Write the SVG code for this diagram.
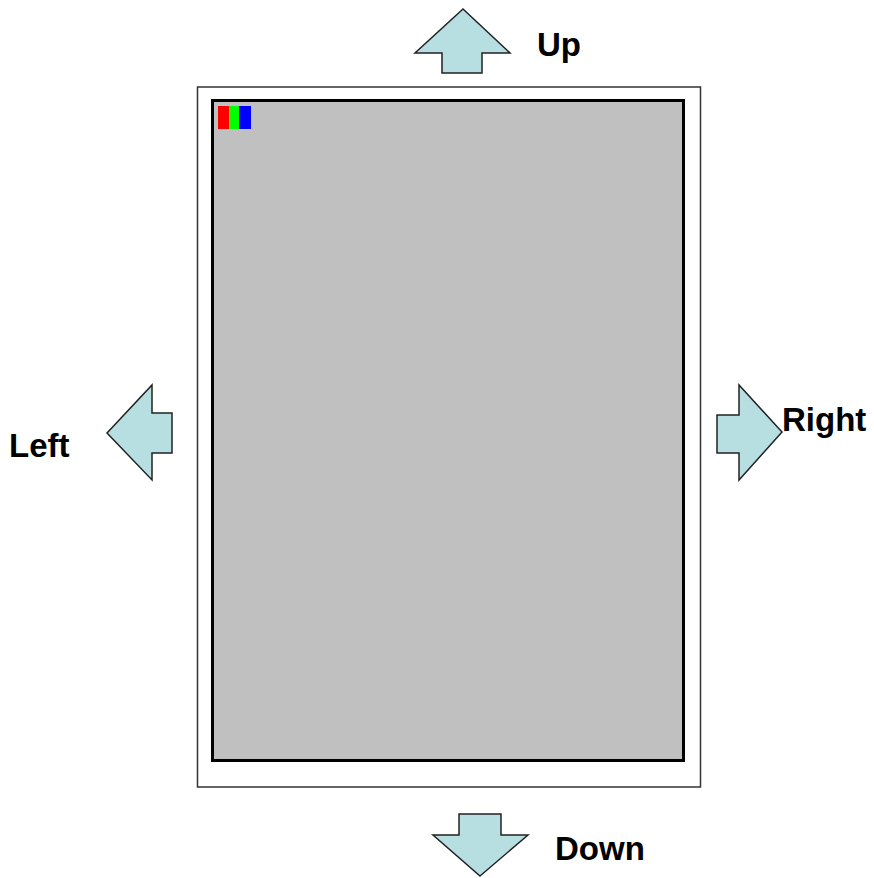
<svg xmlns="http://www.w3.org/2000/svg" width="874" height="878" viewBox="0 0 874 878">
<style>
.arrow{fill:#b7dfe1;stroke:#222;stroke-width:1.5;stroke-linejoin:miter}
.lbl{font-family:"Liberation Sans",Arial,sans-serif;font-weight:bold;font-size:33px;fill:#000}
</style>
<rect width="874" height="878" fill="#fff"/>
<g id="screen">
<rect x="197.5" y="87" width="503" height="700" fill="#fff" stroke="#333" stroke-width="1.5"/>
<rect x="212.5" y="100.5" width="471" height="660" fill="#c0c0c0" stroke="#000" stroke-width="3"/>
<rect x="218" y="106" width="11" height="23" fill="#ff0000"/>
<rect x="229" y="106" width="10" height="23" fill="#00ff00"/>
<rect x="239" y="106" width="12" height="23" fill="#0000ff"/>
</g>
<g id="up">
<polygon class="arrow" points="463,9 510,53 482,53 482,73 442,73 442,53 415,53"/>
<text class="lbl" x="537" y="56">Up</text>
</g>
<g id="right">
<polygon class="arrow" points="782,432 739,385 739,415 717,415 717,453 739,453 739,480"/>
<text class="lbl" x="782" y="431">Right</text>
</g>
<g id="left">
<polygon class="arrow" points="107,433 152,385 152,413 172,413 172,453 152,453 152,480"/>
<text class="lbl" x="9" y="457">Left</text>
</g>
<g id="down">
<polygon class="arrow" points="480,876 528,835 501,835 501,814 459,814 459,835 433,835"/>
<text class="lbl" x="555" y="860">Down</text>
</g>
<g id="connectors"></g>
</svg>
